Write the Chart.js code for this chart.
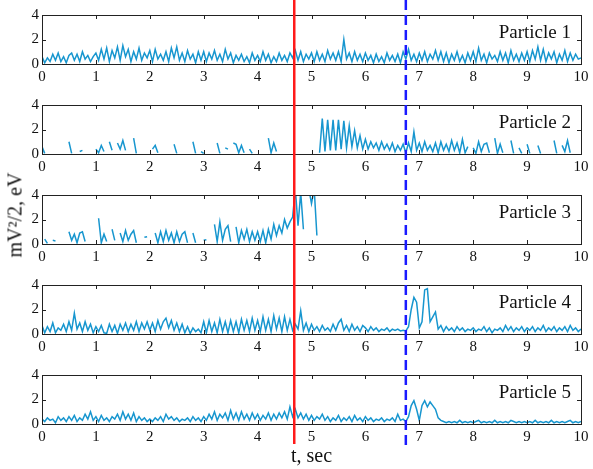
<!DOCTYPE html>
<html>
<head>
<meta charset="utf-8">
<script src="https://cdn.jsdelivr.net/npm/chart.js@4.4.1/dist/chart.umd.min.js"></script>
<style>
  body { margin: 0; background: #fff; }
  #wrap { position: relative; width: 593px; height: 469px; }
  #wrap canvas { position: absolute; left: 0; }
  #ylabel {
    position: absolute; left: 15px; top: 215px;
    transform: translate(-50%, -50%) rotate(-90deg);
    font: 20px "Liberation Serif", "Times New Roman", serif;
    color: #111; white-space: nowrap;
  }
</style>
</head>
<body>
<div id="wrap">
  <canvas id="c0" width="593" height="90" style="top:0px"></canvas>
  <canvas id="c1" width="593" height="90" style="top:90px"></canvas>
  <canvas id="c2" width="593" height="90" style="top:180px"></canvas>
  <canvas id="c3" width="593" height="90" style="top:270px"></canvas>
  <canvas id="c4" width="593" height="109" style="top:360px"></canvas>
  <div id="ylabel">mV²/2, eV</div>
</div>
<script>
// ---- data ----
const _ = null; // gap in the record

// sample times, sec (0 .. 10, step 0.05)
const timeSec = Array.from({ length: 201 }, (v, i) => +(i * 0.05).toFixed(2));

const particleNames = ['Particle 1', 'Particle 2', 'Particle 3', 'Particle 4', 'Particle 5'];
const xTickValues = [0, 1, 2, 3, 4, 5, 6, 7, 8, 9, 10];
const yTickValues = [0, 2, 4];
const redLineTime = 4.68;   // sec
const blueLineTime = 6.75;  // sec

const particle1 = [
  0.6,0.1,0.5,0.2,0.8,0.3,0.9,0.2,0.6,0.1,0.7,0.9,0.3,0.8,0.2,1.0,0.4,0.7,0.2,0.6,
  0.9,0.3,1.2,0.4,1.3,0.2,1.1,0.5,1.4,0.3,1.5,0.6,1.2,0.2,1.0,0.4,1.3,0.3,0.9,0.5,
  1.1,0.2,1.2,0.4,0.8,0.3,1.0,0.2,1.3,0.5,1.4,0.3,0.9,0.2,1.1,0.4,0.8,0.1,1.0,0.3,
  1.0,0.2,0.9,0.4,1.1,0.3,0.8,0.2,1.2,0.4,0.9,0.1,0.7,0.3,0.8,0.2,0.6,0.1,0.9,0.3,
  0.7,0.2,1.0,0.3,0.8,0.1,0.6,0.2,0.9,0.3,0.7,0.2,0.9,0.5,1.1,0.3,1.0,0.2,0.8,0.4,
  0.9,0.2,1.0,0.3,0.8,0.2,1.1,0.4,0.9,0.3,1.0,0.2,2.0,0.4,0.9,0.2,1.0,0.3,0.8,0.2,
  0.9,0.3,0.7,0.1,0.8,0.2,0.6,0.1,0.9,0.3,0.7,0.2,0.8,0.1,1.0,0.4,1.2,0.3,0.8,0.2,
  0.9,0.3,1.0,0.2,0.8,0.4,1.1,0.3,1.0,0.2,0.9,0.1,0.8,0.3,1.0,0.2,0.7,0.1,0.9,0.3,
  1.0,0.2,1.3,0.3,0.8,0.1,0.9,0.4,0.7,0.2,1.0,0.3,0.9,0.1,1.1,0.3,0.8,0.2,0.9,0.3,
  1.0,0.2,1.1,0.4,1.4,0.3,1.2,0.2,0.9,0.4,1.0,0.1,0.8,0.3,1.1,0.2,0.9,0.3,0.8,0.4,0.5
];

const particle2 = [
  0.6,0.05,_,_,_,_,_,_,_,_,1.0,0.05,_,_,0.2,0.3,_,_,_,_,
  0.4,0.1,0.7,0.2,_,1.0,0.3,_,0.9,0.4,1.1,0.3,_,_,1.3,0.05,_,_,_,_,
  _,0.4,0.7,0.1,_,_,_,_,_,0.8,0.05,_,_,_,_,_,1.0,0.05,_,0.2,
  0.05,_,_,_,_,0.9,0.05,_,0.5,0.4,_,0.9,0.8,0.1,0.7,0.1,_,0.4,0.05,_,
  _,_,_,_,1.3,0.1,0.9,0.2,_,_,_,_,_,_,_,_,_,_,_,_,
  _,_,_,0.1,2.9,0.2,2.8,0.3,2.8,0.3,2.8,0.4,2.7,0.5,2.3,0.6,1.9,0.5,1.5,0.4,
  1.2,0.4,1.0,0.5,0.9,0.3,1.0,0.4,0.8,0.3,0.9,0.2,0.7,0.3,0.8,0.1,0.9,0.2,1.8,0.3,
  0.9,0.2,1.0,0.3,0.7,0.2,0.9,0.1,1.0,0.3,0.8,0.2,1.1,0.3,0.9,0.1,1.2,0.1,0.6,_,
  0.5,0.05,1.0,0.2,0.8,0.9,0.1,_,1.3,0.05,0.8,0.1,_,_,1.1,0.05,_,0.5,0.05,_,
  0.8,0.05,_,_,0.7,0.05,_,_,_,_,1.1,0.05,_,0.7,0.2,1.1,0.1,_,_,_,_
];

const particle3 = [
  _,0.4,0.05,_,0.3,0.25,_,_,_,_,1.0,0.3,0.8,0.1,0.9,1.0,0.2,_,_,_,
  _,2.1,0.1,0.8,0.2,_,1.2,0.3,_,0.9,0.2,1.1,0.3,0.8,1.1,0.1,_,_,0.55,0.6,
  _,_,0.9,0.1,1.0,0.2,1.1,0.3,0.9,0.1,1.0,0.2,0.8,1.0,0.1,_,0.9,0.1,_,_,
  0.3,0.35,_,_,1.6,0.2,1.8,0.3,1.2,1.5,0.2,_,1.4,0.1,1.1,0.4,1.2,0.2,1.0,0.3,
  1.0,0.2,1.1,0.1,1.2,0.4,1.6,0.7,1.5,0.9,2.0,1.3,1.8,2.2,4.5,1.5,4.2,1.2,_,4.5,
  3.3,4.5,0.7,_,_,_,_,_,_,_,_,_,_,_,_,_,_,_,_,_,
  _,_,_,_,_,_,_,_,_,_,_,_,_,_,_,_,_,_,_,_,
  _,_,_,_,_,_,_,_,_,_,_,_,_,_,_,_,_,_,_,_,
  _,_,_,_,_,_,_,_,_,_,_,_,_,_,_,_,_,_,_,_,
  _,_,_,_,_,_,_,_,_,_,_,_,_,_,_,_,_,_,_,_,_
];

const particle4 = [
  0.7,0.1,0.6,0.2,0.9,0.1,0.5,0.3,0.8,0.2,1.0,0.3,1.7,0.4,0.9,0.2,1.0,0.3,0.8,0.1,
  0.6,0.2,0.7,0.1,0.05,0.8,0.2,0.7,0.05,0.8,0.3,0.9,0.2,0.8,0.3,1.0,0.2,0.9,0.4,1.0,
  0.3,0.9,0.2,1.1,0.4,1.0,1.3,0.5,1.1,0.3,0.9,0.2,0.8,0.1,0.6,0.05,0.5,0.2,0.4,0.1,
  1.0,0.1,1.1,0.2,0.9,0.1,1.2,0.2,1.0,0.1,1.1,0.2,1.0,0.1,1.2,0.3,1.1,0.2,1.3,0.3,
  1.1,0.2,1.4,0.3,1.2,0.2,1.5,0.4,1.3,0.2,1.4,0.3,1.2,0.3,0.8,0.4,1.9,0.3,0.9,0.2,
  0.8,0.3,0.6,0.2,0.7,0.3,0.5,0.2,0.8,0.3,0.9,1.2,0.3,0.7,0.2,0.8,0.3,0.6,0.2,0.7,
  0.5,0.2,0.6,0.3,0.5,0.2,0.4,0.3,0.5,0.2,0.4,0.3,0.4,0.25,0.3,0.25,0.6,2.0,3.0,2.6,
  0.5,1.0,3.6,3.7,1.0,1.4,1.8,0.4,0.7,0.2,0.6,0.3,0.5,0.2,0.6,0.3,0.5,0.2,0.4,0.3,
  0.5,0.2,0.4,0.3,0.6,0.2,0.5,0.1,0.4,0.3,0.5,0.2,0.7,0.3,0.6,0.2,0.5,0.3,0.6,0.2,
  0.5,0.3,0.6,0.2,0.5,0.3,0.7,0.2,0.5,0.3,0.6,0.2,0.5,0.3,0.6,0.2,0.7,0.3,0.5,0.2,0.4
];

const particle5 = [
  0.4,0.2,0.5,0.3,0.4,0.1,0.6,0.3,0.5,0.2,0.6,0.3,0.7,0.2,0.5,0.3,0.8,0.4,1.0,0.3,
  0.6,0.2,0.7,0.3,0.5,0.2,0.6,0.4,0.8,0.3,1.0,0.4,0.8,0.3,0.9,0.2,0.6,0.3,0.5,0.2,
  0.4,0.2,0.5,0.3,0.6,0.2,0.8,0.4,0.6,0.3,0.5,0.2,0.4,0.3,0.5,0.2,0.6,0.3,0.5,0.2,
  0.6,0.3,0.8,0.4,1.0,0.3,0.8,0.5,0.9,0.3,1.1,0.4,0.9,0.3,1.0,0.4,0.8,0.3,0.9,0.4,
  0.8,0.3,0.7,0.4,0.9,0.3,0.8,0.4,0.9,0.5,1.0,0.4,1.4,0.6,1.2,0.5,0.9,0.4,0.8,0.3,
  0.7,0.3,0.6,0.4,0.8,0.3,0.6,0.2,0.5,0.3,0.7,0.2,0.5,0.3,0.6,0.2,0.7,0.3,0.5,0.2,
  0.6,0.3,0.5,0.2,0.4,0.3,0.5,0.2,0.4,0.3,0.5,0.2,0.8,0.3,0.4,0.2,0.6,1.5,1.9,1.2,
  0.3,1.5,1.9,1.4,1.8,1.5,1.2,0.5,0.3,0.2,0.1,0.2,0.1,0.2,0.1,0.3,0.1,0.2,0.1,0.2,
  0.1,0.2,0.3,0.1,0.2,0.1,0.2,0.1,0.3,0.1,0.2,0.1,0.2,0.1,0.3,0.2,0.1,0.2,0.1,0.2,
  0.1,0.2,0.1,0.3,0.1,0.2,0.1,0.2,0.1,0.3,0.1,0.2,0.1,0.2,0.1,0.2,0.3,0.1,0.2,0.1,0.2
];

const allParticles = [particle1, particle2, particle3, particle4, particle5];

// ---- look ----
const serif = '"Liberation Serif", "Times New Roman", serif';
const lineColor = '#1796cf';
const axisColor = '#222';

// box, inward ticks, panel label and the two time markers
const framePlugin = {
  id: 'frame',
  afterDatasetsDraw(chart, args, opts) {
    const { ctx, chartArea: a, scales: { x, y } } = chart;
    ctx.save();

    ctx.strokeStyle = axisColor;
    ctx.lineWidth = 1;
    ctx.beginPath();
    xTickValues.forEach(v => {
      const px = Math.round(x.getPixelForValue(v)) + 0.5;
      ctx.moveTo(px, a.bottom); ctx.lineTo(px, a.bottom - 4);
      ctx.moveTo(px, a.top); ctx.lineTo(px, a.top + 4);
    });
    yTickValues.forEach(v => {
      const py = Math.round(y.getPixelForValue(v)) + 0.5;
      ctx.moveTo(a.left, py); ctx.lineTo(a.left + 4, py);
      ctx.moveTo(a.right, py); ctx.lineTo(a.right - 4, py);
    });
    ctx.stroke();
    ctx.strokeRect(Math.round(a.left) + 0.5, Math.round(a.top) + 0.5,
                   Math.round(a.width), Math.round(a.height));

    ctx.fillStyle = '#111';
    ctx.font = '19px ' + serif;
    ctx.textAlign = 'right';
    ctx.textBaseline = 'alphabetic';
    ctx.fillText(opts.label, a.right - 10, a.top + 23);

    const end = opts.lineEnd ?? chart.height;
    // red solid marker
    ctx.strokeStyle = '#ff1a1a';
    ctx.lineWidth = 2.5;
    const rx = x.getPixelForValue(redLineTime);
    ctx.beginPath(); ctx.moveTo(rx, 0); ctx.lineTo(rx, end); ctx.stroke();
    // blue dashed marker
    ctx.strokeStyle = '#1a1aff';
    ctx.setLineDash([10, 5]);
    ctx.lineDashOffset = opts.offset;
    const bx = x.getPixelForValue(blueLineTime);
    ctx.beginPath(); ctx.moveTo(bx, 0); ctx.lineTo(bx, end + 2); ctx.stroke();

    ctx.restore();
  }
};

allParticles.forEach((values, k) => {
  const last = k === allParticles.length - 1;
  const canvasH = last ? 109 : 90;
  new Chart(document.getElementById('c' + k), {
    type: 'line',
    data: {
      datasets: [{
        data: timeSec.map((t, i) => ({ x: t, y: values[i] })),
        borderColor: lineColor,
        borderWidth: 1.5,
        pointRadius: 0,
        spanGaps: false,
        tension: 0
      }]
    },
    plugins: [framePlugin],
    options: {
      responsive: false,
      animation: false,
      events: [],
      layout: { padding: { top: 15, right: 12, left: 0, bottom: 0 } },
      plugins: {
        legend: { display: false },
        tooltip: { enabled: false },
        frame: { label: particleNames[k], offset: k * 90, lineEnd: last ? 84 : undefined }
      },
      scales: {
        x: {
          type: 'linear', min: 0, max: 10,
          grid: { display: false, drawTicks: false },
          border: { display: false },
          ticks: { stepSize: 1, autoSkip: false, maxRotation: 0, padding: 4,
                   color: '#111', font: { family: serif, size: 15 } },
          title: { display: last, text: 't, sec', color: '#111',
                   font: { family: serif, size: 20 }, padding: { top: 0, bottom: 0 } },
          afterFit: s => { s.height = canvasH - 15 - 49; }
        },
        y: {
          min: 0, max: 4,
          grid: { display: false, drawTicks: false },
          border: { display: false },
          ticks: { stepSize: 2, padding: 3, color: '#111', font: { family: serif, size: 15 } },
          afterFit: s => { s.width = 42; }
        }
      }
    }
  });
});
</script>
</body>
</html>
